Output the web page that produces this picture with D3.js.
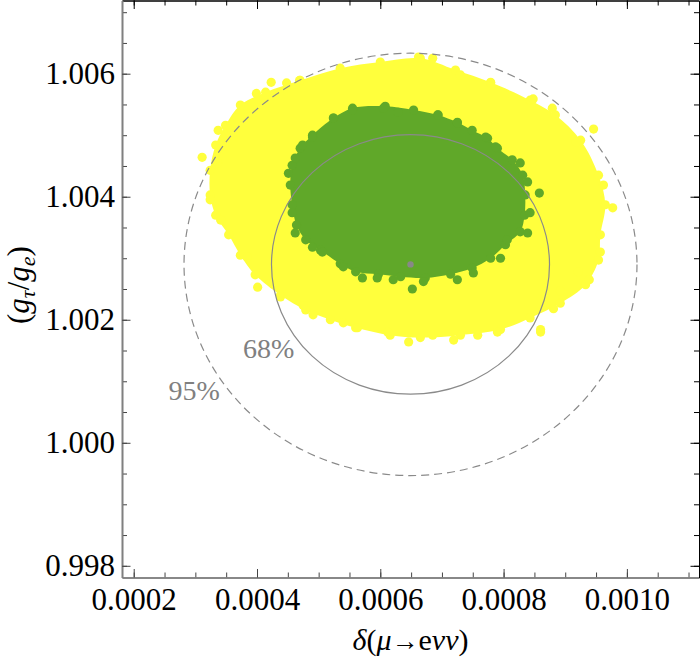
<!DOCTYPE html>
<html>
<head>
<meta charset="utf-8">
<script src="https://cdn.jsdelivr.net/npm/d3@7"></script>
<style>
  body { margin: 0; background: #fff; }
  text { font-family: "Liberation Serif", "DejaVu Serif", serif; }
</style>
</head>
<body>
<svg id="chart" width="700" height="660"></svg>
<script>
// outline of the dense yellow region, [delta, gtau/ge]
const yellowEdge = [
  [0.000349, 1.00516], [0.000373, 1.00549], [0.000414, 1.00570], [0.000470, 1.00589],
  [0.000535, 1.00609], [0.000600, 1.00619], [0.000665, 1.00625], [0.000722, 1.00606],
  [0.000779, 1.00586], [0.000843, 1.00557], [0.000884, 1.00533], [0.000925, 1.00492],
  [0.000954, 1.00435], [0.000965, 1.00387], [0.000957, 1.00338], [0.000954, 1.00297],
  [0.000933, 1.00257], [0.000892, 1.00227], [0.000843, 1.00203], [0.000795, 1.00184],
  [0.000730, 1.00175], [0.000665, 1.00171], [0.000616, 1.00175], [0.000560, 1.00187],
  [0.000519, 1.00200], [0.000479, 1.00216], [0.000438, 1.00240], [0.000397, 1.00273],
  [0.000373, 1.00305], [0.000354, 1.00338], [0.000333, 1.00370], [0.000324, 1.00403],
  [0.000324, 1.00443], [0.000333, 1.00484]
];

// scattered yellow points outside the dense part
const yellowStray = [
  [0.000311, 1.00464], [0.000336, 1.00455], [0.000324, 1.00395], [0.000337, 1.00508],
  [0.000368, 1.00528], [0.000399, 1.00568], [0.000423, 1.00586], [0.000448, 1.00585],
  [0.000469, 1.00589], [0.000341, 1.00362], [0.000384, 1.00302], [0.000401, 1.00253],
  [0.000438, 1.00237], [0.000475, 1.00223], [0.000491, 1.00208], [0.000540, 1.00195],
  [0.000563, 1.00187], [0.000612, 1.00180], [0.000646, 1.00164], [0.000685, 1.00175],
  [0.000719, 1.00167], [0.000758, 1.00175], [0.000790, 1.00180], [0.000860, 1.00180],
  [0.000946, 1.00510], [0.000918, 1.00489], [0.000962, 1.00419], [0.000977, 1.00382],
  [0.000957, 1.00310], [0.000939, 1.00265], [0.000921, 1.00278], [0.000892, 1.00247],
  [0.000881, 1.00218], [0.000860, 1.00184], [0.000879, 1.00544], [0.000848, 1.00559],
  [0.000779, 1.00585], [0.000730, 1.00598], [0.000685, 1.00625], [0.000662, 1.00627]
];

// outline of the green region
const greenEdge = [
  [0.000470, 1.00479], [0.000490, 1.00500], [0.000524, 1.00528], [0.000555, 1.00544],
  [0.000608, 1.00547], [0.000654, 1.00541], [0.000693, 1.00533], [0.000725, 1.00521],
  [0.000749, 1.00508], [0.000774, 1.00495], [0.000790, 1.00479], [0.000814, 1.00460],
  [0.000831, 1.00435], [0.000835, 1.00403], [0.000834, 1.00370], [0.000827, 1.00343],
  [0.000803, 1.00322], [0.000779, 1.00300], [0.000749, 1.00284], [0.000714, 1.00274],
  [0.000673, 1.00268], [0.000633, 1.00270], [0.000597, 1.00274], [0.000560, 1.00278],
  [0.000535, 1.00291], [0.000503, 1.00313], [0.000479, 1.00330], [0.000464, 1.00354],
  [0.000457, 1.00387], [0.000454, 1.00419], [0.000457, 1.00451]
];

const greenStray = [
  [0.000555, 1.00541], [0.000524, 1.00528], [0.000490, 1.00497], [0.000474, 1.00484],
  [0.000462, 1.00463], [0.000451, 1.00438], [0.000457, 1.00374], [0.000462, 1.00341],
  [0.000490, 1.00318], [0.000506, 1.00310], [0.000540, 1.00286], [0.000571, 1.00268],
  [0.000595, 1.00268], [0.000621, 1.00265], [0.000652, 1.00250], [0.000670, 1.00262],
  [0.000725, 1.00265], [0.000751, 1.00276], [0.000795, 1.00300], [0.000806, 1.00330],
  [0.000839, 1.00341], [0.000843, 1.00374], [0.000858, 1.00406], [0.000839, 1.00424],
  [0.000827, 1.00455], [0.000787, 1.00481], [0.000771, 1.00497], [0.000725, 1.00520],
  [0.000694, 1.00533], [0.000629, 1.00537], [0.000605, 1.00544]
];

// best fit point and the two confidence ellipses (half-widths in data units)
const bestFit = [0.000649, 1.00290];
const contours = [
  {label: '68%', rx: 0.0002255, ry: 0.00211, dash: null, at: [0.000419, 1.00138]},
  {label: '95%', rx: 0.0003674, ry: 0.003433, dash: '8,5', at: [0.000298, 1.00070]}
];

const xTicks = [0.0002, 0.0004, 0.0006, 0.0008, 0.0010];
const xTickLabels = ['0.0002', '0.0004', '0.0006', '0.0008', '0.0010'];
const yTicks = [0.998, 1.000, 1.002, 1.004, 1.006];
const yTickLabels = ['0.998', '1.000', '1.002', '1.004', '1.006'];

let margin = {left: 122, top: 0.5, right: 1, bottom: 82.5},
  width = 700 - margin.left - margin.right,
  height = 660 - margin.top - margin.bottom;

let x = d3.scaleLinear().domain([0.000181, 0.001117]).range([0, width]),
  y = d3.scaleLinear().domain([0.99781, 1.00719]).range([height, 0]);

let svg = d3.select('#chart');
let g = svg.append('g').attr('transform', `translate(${margin.left}, ${margin.top})`);

const yellow = '#ffff3c', green = '#60a829', grey = '#8a8a8a';
const r = 4.6;

let outline = d3.line()
  .x(d => x(d[0]))
  .y(d => y(d[1]))
  .curve(d3.curveCatmullRomClosed);

function cloud(edge, stray, color, cls) {
  let c = g.append('g').attr('class', cls);
  c.append('path')
    .attr('d', outline(edge))
    .attr('fill', color);
  c.selectAll('circle').data(edge.concat(stray)).enter().append('circle')
    .attr('cx', d => x(d[0]))
    .attr('cy', d => y(d[1]))
    .attr('r', r)
    .attr('fill', color);
}

cloud(yellowEdge, yellowStray, yellow, 'yellow');
cloud(greenEdge, greenStray, green, 'green');

g.selectAll('.contour').data(contours).enter().append('ellipse')
  .attr('class', 'contour')
  .attr('cx', x(bestFit[0]))
  .attr('cy', y(bestFit[1]))
  .attr('rx', d => x(bestFit[0] + d.rx) - x(bestFit[0]))
  .attr('ry', d => y(bestFit[1]) - y(bestFit[1] + d.ry))
  .attr('fill', 'none')
  .attr('stroke', grey)
  .attr('stroke-width', 1.2)
  .attr('stroke-dasharray', d => d.dash);

g.append('circle')
  .attr('cx', x(bestFit[0]))
  .attr('cy', y(bestFit[1]))
  .attr('r', 3.2)
  .attr('fill', '#888');

g.selectAll('.clabel').data(contours).enter().append('text')
  .attr('class', 'clabel')
  .attr('x', d => x(d.at[0]))
  .attr('y', d => y(d.at[1]))
  .attr('text-anchor', 'middle')
  .attr('font-size', 28)
  .attr('fill', '#808080')
  .text(d => d.label);

// frame: ticks on every side, pointing inward
let minorX = d3.range(0.0002, 0.00111, 0.00005),
  minorY = d3.range(0.998, 1.00701, 0.0005);

function frame(axisFn, scale, major, labels, minor, transform, color, showLabels) {
  let a = g.append('g').attr('transform', transform);
  a.call(axisFn(scale).tickValues(minor).tickSize(-5).tickSizeOuter(0).tickFormat(''));
  let b = g.append('g').attr('transform', transform);
  b.call(axisFn(scale).tickValues(major).tickSize(-8.5).tickSizeOuter(0).tickPadding(10)
    .tickFormat((d, i) => showLabels ? labels[i] : ''));
  [a, b].forEach(s => {
    s.select('.domain').attr('stroke', color).attr('stroke-width', color === '#000' ? 1 : 1.6);
    s.selectAll('.tick line').attr('stroke', color === '#000' ? '#000' : '#444');
    s.selectAll('text').attr('font-size', 31).attr('fill', '#000')
      .attr('font-family', '"Liberation Serif", serif');
  });
  return b;
}

frame(d3.axisBottom, x, xTicks, xTickLabels, minorX, `translate(0, ${height})`, '#808080', true);
frame(d3.axisTop, x, xTicks, xTickLabels, minorX, 'translate(0, 0)', '#000', false);
let yl = frame(d3.axisLeft, y, yTicks, yTickLabels, minorY, 'translate(0, 0)', '#808080', true);
frame(d3.axisRight, y, yTicks, yTickLabels, minorY, `translate(${width}, 0)`, '#000', false);
yl.selectAll('.tick text').attr('x', -7);

// axis titles
let xt = svg.append('text')
  .attr('x', margin.left + width / 2)
  .attr('y', 650)
  .attr('text-anchor', 'middle')
  .attr('font-size', 30);
xt.append('tspan').attr('font-style', 'italic').text('δ');
xt.append('tspan').text('(');
xt.append('tspan').attr('font-style', 'italic').text('μ');
xt.append('tspan').attr('font-size', 27).text('→');
xt.append('tspan').text('e');
xt.append('tspan').attr('font-style', 'italic').text('νν');
xt.append('tspan').text(')');

let yt = svg.append('text')
  .attr('transform', `translate(29, ${margin.top + height / 2 - 4}) rotate(-90)`)
  .attr('text-anchor', 'middle')
  .attr('font-size', 31);
yt.append('tspan').text('(');
yt.append('tspan').attr('font-style', 'italic').text('g');
yt.append('tspan').attr('font-style', 'italic').attr('font-size', 22).attr('dy', 6).text('τ');
yt.append('tspan').attr('dy', -6).text('/');
yt.append('tspan').attr('font-style', 'italic').text('g');
yt.append('tspan').attr('font-style', 'italic').attr('font-size', 22).attr('dy', 6).text('e');
yt.append('tspan').attr('dy', -6).text(')');
</script>
</body>
</html>
